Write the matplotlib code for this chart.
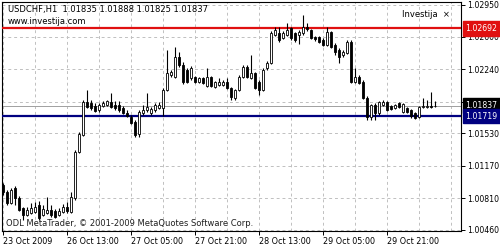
import matplotlib.pyplot as plt
from matplotlib.patches import Rectangle

# USDCHF H1 Kerzen (Open, High, Low, Close)
opens = [1.00957, 1.00880, 1.00758, 1.00924, 1.00814, 1.00703, 1.00625, 1.00647, 1.00659, 1.00736,
         1.00625, 1.00647, 1.00681, 1.00670, 1.00625, 1.00659, 1.00714, 1.00659, 1.00814, 1.01323,
         1.01511, 1.01876, 1.01865, 1.01832, 1.01788, 1.01832, 1.01843, 1.01876, 1.01843, 1.01843,
         1.01810, 1.01755, 1.01710, 1.01655, 1.01522, 1.01755, 1.01788, 1.01755, 1.01788, 1.01810,
         1.01810, 1.02009, 1.02175, 1.02153, 1.02374, 1.02286, 1.02230, 1.02142, 1.02153, 1.02098,
         1.02142, 1.02053, 1.02153, 1.02042, 1.02064, 1.02064, 1.02098, 1.02031, 1.01921, 1.02009,
         1.02153, 1.02264, 1.02142, 1.02197, 1.02098, 1.02009, 1.02253, 1.02308, 1.02618, 1.02640,
         1.02585, 1.02618, 1.02695, 1.02640, 1.02618, 1.02640, 1.02706, 1.02673, 1.02596, 1.02596,
         1.02563, 1.02507, 1.02651, 1.02507, 1.02452, 1.02396, 1.02419, 1.02540, 1.02098, 1.02153,
         1.02098, 1.01921, 1.01710, 1.01843, 1.01755, 1.01843, 1.01876, 1.01832, 1.01810, 1.01865,
         1.01766, 1.01810, 1.01788, 1.01755, 1.01710, 1.01821, 1.01821, 1.01832, 1.01835]
highs = [1.00980, 1.00902, 1.00924, 1.00946, 1.00836, 1.00714, 1.00714, 1.00758, 1.00769, 1.00780,
         1.00736, 1.00825, 1.00736, 1.00692, 1.00703, 1.00747, 1.00769, 1.00880, 1.01345, 1.01544,
         1.01898, 1.02009, 1.01898, 1.01865, 1.01865, 1.01887, 1.01898, 1.01976, 1.01887, 1.01887,
         1.01832, 1.01788, 1.01732, 1.01677, 1.01788, 1.01843, 1.01976, 1.01821, 1.01865, 1.01876,
         1.02031, 1.02452, 1.02230, 1.02485, 1.02430, 1.02319, 1.02253, 1.02275, 1.02164, 1.02153,
         1.02153, 1.02253, 1.02164, 1.02109, 1.02142, 1.02120, 1.02142, 1.02042, 1.02020, 1.02175,
         1.02286, 1.02286, 1.02396, 1.02208, 1.02120, 1.02253, 1.02330, 1.02662, 1.02706, 1.02706,
         1.02662, 1.02751, 1.02706, 1.02651, 1.02673, 1.02839, 1.02751, 1.02684, 1.02607, 1.02607,
         1.02585, 1.02706, 1.02662, 1.02529, 1.02474, 1.02452, 1.02563, 1.02563, 1.02253, 1.02175,
         1.02120, 1.01943, 1.01854, 1.01865, 1.01887, 1.01898, 1.01887, 1.01843, 1.01854, 1.01876,
         1.01865, 1.01821, 1.01799, 1.01766, 1.01832, 1.01921, 1.01898, 1.01987, 1.01888]
lows = [1.00847, 1.00736, 1.00747, 1.00736, 1.00670, 1.00570, 1.00614, 1.00636, 1.00647, 1.00570,
        1.00614, 1.00636, 1.00603, 1.00592, 1.00614, 1.00647, 1.00647, 1.00647, 1.00791, 1.01312,
        1.01500, 1.01810, 1.01788, 1.01766, 1.01766, 1.01821, 1.01832, 1.01810, 1.01788, 1.01766,
        1.01743, 1.01710, 1.01633, 1.01489, 1.01489, 1.01732, 1.01766, 1.01732, 1.01766, 1.01799,
        1.01721, 1.01998, 1.02153, 1.02142, 1.02264, 1.02075, 1.02087, 1.02120, 1.02087, 1.02087,
        1.02075, 1.02042, 1.02042, 1.02031, 1.02053, 1.02053, 1.02020, 1.01898, 1.01898, 1.01998,
        1.02142, 1.02142, 1.02131, 1.02020, 1.01954, 1.01998, 1.02230, 1.02297, 1.02607, 1.02540,
        1.02574, 1.02607, 1.02563, 1.02540, 1.02518, 1.02618, 1.02662, 1.02574, 1.02551, 1.02529,
        1.02496, 1.02496, 1.02474, 1.02396, 1.02308, 1.02374, 1.02408, 1.02087, 1.02087, 1.02075,
        1.01909, 1.01677, 1.01677, 1.01677, 1.01732, 1.01832, 1.01777, 1.01788, 1.01799, 1.01810,
        1.01755, 1.01755, 1.01699, 1.01688, 1.01699, 1.01810, 1.01810, 1.01810, 1.01825]
closes = [1.00880, 1.00758, 1.00902, 1.00814, 1.00681, 1.00625, 1.00681, 1.00703, 1.00714, 1.00592,
          1.00692, 1.00681, 1.00625, 1.00603, 1.00670, 1.00714, 1.00670, 1.00825, 1.01323, 1.01522,
          1.01876, 1.01821, 1.01810, 1.01777, 1.01843, 1.01865, 1.01887, 1.01821, 1.01810, 1.01788,
          1.01755, 1.01721, 1.01644, 1.01511, 1.01766, 1.01788, 1.01821, 1.01799, 1.01843, 1.01843,
          1.02009, 1.02197, 1.02208, 1.02374, 1.02286, 1.02098, 1.02098, 1.02253, 1.02098, 1.02142,
          1.02087, 1.02153, 1.02053, 1.02098, 1.02098, 1.02098, 1.02031, 1.01932, 1.02009, 1.02153,
          1.02264, 1.02153, 1.02197, 1.02031, 1.02009, 1.02230, 1.02308, 1.02640, 1.02673, 1.02563,
          1.02640, 1.02673, 1.02585, 1.02563, 1.02651, 1.02706, 1.02684, 1.02585, 1.02574, 1.02540,
          1.02507, 1.02651, 1.02485, 1.02430, 1.02374, 1.02430, 1.02540, 1.02098, 1.02153, 1.02087,
          1.01921, 1.01710, 1.01843, 1.01755, 1.01876, 1.01876, 1.01788, 1.01799, 1.01843, 1.01821,
          1.01854, 1.01766, 1.01721, 1.01699, 1.01821, 1.01832, 1.01832, 1.01821, 1.01837]

# Achsenbeschriftungen
y_ticks = [1.02950, 1.02600, 1.02240, 1.01880, 1.01530, 1.01170, 1.00810, 1.00460]
x_tick_pos = [0, 16, 32, 48, 64, 80, 96]
x_tick_labels = ['23 Oct 2009', '26 Oct 13:00', '27 Oct 05:00', '27 Oct 21:00',
                 '28 Oct 13:00', '29 Oct 05:00', '29 Oct 21:00']

# Horizontale Linien
resistance = 1.02692
support = 1.01719
last_price = closes[-1]

fs_y = 5.6
fs_x = 5.8
fs_t = 6.0
fig = plt.figure(figsize=(5, 2.5), dpi=100)
ax = fig.add_axes([0.004, 0.076, 0.918, 0.916])
ax.set_xlim(-0.25, 114.5)
ax.set_ylim(1.00448, 1.02983)

# Gitter
for v in range(0, 115, 8):
    ax.axvline(v, color='#c0c0c0', lw=0.7, ls=(0, (3, 3)), zorder=0)
for v in y_ticks:
    ax.axhline(v, color='#c0c0c0', lw=0.7, ls=(0, (3, 3)), zorder=0)

ax.axhline(last_price, color='#a0a0a0', lw=0.7, zorder=1)
ax.axhline(resistance, color='#e01010', lw=1.6, zorder=3)
ax.axhline(support, color='#000080', lw=1.6, zorder=3)

# Kerzen zeichnen
for i in range(len(closes)):
    o, h, l, c = opens[i], highs[i], lows[i], closes[i]
    ax.vlines(i, l, h, color='black', lw=0.8, zorder=4)
    col = 'white' if c >= o else 'black'
    bottom = min(o, c)
    height = max(abs(c - o), 0.00002)
    ax.add_patch(Rectangle((i - 0.3, bottom), 0.6, height, facecolor=col,
                           edgecolor='black', lw=0.6, zorder=5))

# Achsen
for s in ax.spines.values():
    s.set_color('black')
    s.set_linewidth(0.8)
ax.yaxis.tick_right()
ax.set_yticks(y_ticks)
ax.set_yticklabels(['%.5f' % v for v in y_ticks])
ax.set_xticks(x_tick_pos)
ax.set_xticklabels(x_tick_labels)
ax.tick_params(axis='both', length=3, width=0.7, pad=1.5, colors='black')
ax.tick_params(axis='y', labelsize=fs_y)
ax.tick_params(axis='x', labelsize=fs_x)
for lab in ax.get_xticklabels():
    lab.set_ha('left')

# Preis-Markierungen rechts
def price_box(val, bg):
    ax.annotate('%.5f' % val, xy=(1.0, val), xycoords=('axes fraction', 'data'),
                xytext=(3.3, 0), textcoords='offset points',
                fontsize=fs_y, color='white', va='center', ha='left', zorder=10,
                bbox=dict(boxstyle='square,pad=0.35', facecolor=bg, edgecolor=bg),
                annotation_clip=False)

price_box(resistance, '#e01010')
price_box(last_price, 'black')
price_box(support, '#000080')

# Texte
ax.text(0.013, 0.985, 'USDCHF,H1  1.01835 1.01888 1.01825 1.01837',
        transform=ax.transAxes, fontsize=fs_t, va='top', ha='left', zorder=11)
ax.text(0.013, 0.935, 'www.investija.com', transform=ax.transAxes,
        fontsize=fs_t, va='top', ha='left', zorder=11)
ax.text(0.975, 0.965, 'Investija  \u00d7', transform=ax.transAxes,
        fontsize=fs_t, va='top', ha='right', zorder=11)
ax.text(0.008, 0.015, 'ODL MetaTrader, \u00a9 2001-2009 MetaQuotes Software Corp.',
        transform=ax.transAxes, fontsize=fs_t, va='bottom', ha='left', color='#202020', zorder=11)

fig.savefig('out.png', dpi=100)
